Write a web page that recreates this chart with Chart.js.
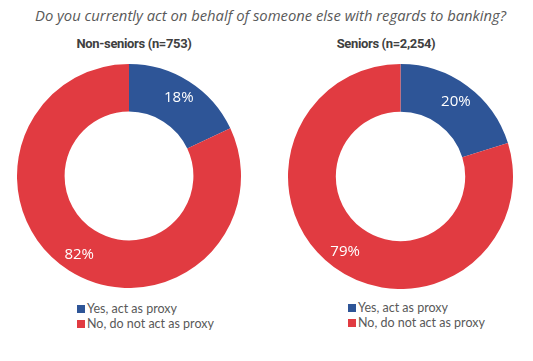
<!DOCTYPE html>
<html>
<head>
<meta charset="utf-8">
<script src="https://cdn.jsdelivr.net/npm/chart.js@4.4.1/dist/chart.umd.min.js"></script>
<style>
  html, body { margin: 0; padding: 0; background: #fff; }
  body { width: 533px; height: 361px; position: relative; overflow: hidden; font-family: "Open Sans", sans-serif; }
  #question { position: absolute; left: 35px; top: 5px; font-style: italic; font-size: 14.8px; color: #595959; white-space: nowrap; }
  .gtitle { position: absolute; top: 36px; width: 240px; text-align: center; font-family: Roboto, sans-serif; font-weight: bold; font-size: 13px; letter-spacing: -0.35px; color: #404040; white-space: nowrap; }
  .box { position: absolute; }
  .legend { position: absolute; font-family: Lato, sans-serif; font-size: 12.5px; color: #595959; line-height: 15px; }
  .legend div { white-space: nowrap; }
  .legend span.sw { display: inline-block; width: 8px; height: 8px; margin-right: 2px; vertical-align: 0px; }
</style>
</head>
<body>
<div id="question"></div>
<div class="gtitle" id="t0" style="left:14px;"></div>
<div class="gtitle" id="t1" style="left:266px;"></div>
<div class="box" style="left:17px; top:64px; width:224px; height:224px;"><canvas id="c0" width="224" height="224"></canvas></div>
<div class="box" style="left:288px; top:64px; width:225px; height:225px;"><canvas id="c1" width="225" height="225"></canvas></div>
<div class="legend" id="l0" style="left:77px; top:301px;"></div>
<div class="legend" id="l1" style="left:348px; top:300px;"></div>
<script>
const question = 'Do you currently act on behalf of someone else with regards to banking?';
const groups = ['Non-seniors (n=753)', 'Seniors (n=2,254)'];
const categories = ['Yes, act as proxy', 'No, do not act as proxy'];
const nonSeniors = [18, 82];
const seniors = [20, 79];
const colors = ['#2E5597', '#E13B41'];

document.getElementById('question').textContent = question;

const labelPlugin = {
  id: 'arcLabels',
  afterDatasetsDraw(chart) {
    const ctx = chart.ctx;
    const meta = chart.getDatasetMeta(0);
    const data = chart.data.datasets[0].data;
    ctx.save();
    ctx.font = '15px "Open Sans", sans-serif';
    ctx.fillStyle = '#ffffff';
    ctx.textAlign = 'center';
    ctx.textBaseline = 'middle';
    meta.data.forEach((arc, i) => {
      const p = arc.getProps(['x', 'y', 'startAngle', 'endAngle', 'innerRadius', 'outerRadius'], true);
      const a = (p.startAngle + p.endAngle) / 2;
      const r = p.innerRadius + (p.outerRadius - p.innerRadius) * 0.6;
      ctx.fillText(data[i] + '%', p.x + Math.cos(a) * r, p.y + Math.sin(a) * r);
    });
    ctx.restore();
  }
};

[nonSeniors, seniors].forEach((vals, k) => {
  document.getElementById('t' + k).textContent = groups[k];
  const chart = new Chart(document.getElementById('c' + k), {
    type: 'doughnut',
    data: {
      labels: categories,
      datasets: [{ data: vals, backgroundColor: colors, borderWidth: 0 }]
    },
    options: {
      responsive: false,
      animation: false,
      cutout: '57.5%',
      layout: { padding: 0 },
      plugins: { legend: { display: false }, tooltip: { enabled: false }, title: { display: false } }
    },
    plugins: [labelPlugin]
  });
  const lg = document.getElementById('l' + k);
  chart.options.plugins.legend.labels.generateLabels(chart).forEach(item => {
    const d = document.createElement('div');
    const sw = document.createElement('span');
    sw.className = 'sw';
    sw.style.background = item.fillStyle;
    d.appendChild(sw);
    d.appendChild(document.createTextNode(item.text));
    lg.appendChild(d);
  });
});
</script>
</body>
</html>
